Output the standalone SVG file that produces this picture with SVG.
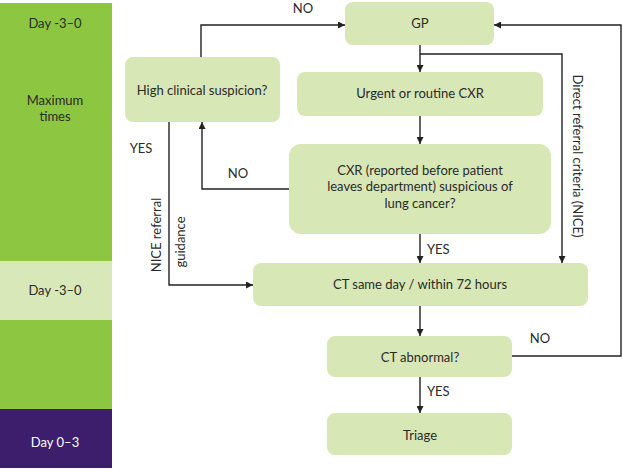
<svg xmlns="http://www.w3.org/2000/svg" width="623" height="469" viewBox="0 0 623 469">
<defs>
<marker id="ah" viewBox="0 0 10 10" refX="10" refY="5" markerWidth="7" markerHeight="7" markerUnits="userSpaceOnUse" orient="auto">
<path d="M0,0 L10,5 L0,10 z" fill="#222"/>
</marker>
<style>
.t{font-family:Lato,"Liberation Sans",sans-serif;font-size:13px;fill:#2a2a2a;text-anchor:middle}
.node{fill:#d8e7b6}
.c{fill:none;stroke:#222;stroke-width:1.4}
.ca{fill:none;stroke:#222;stroke-width:1.4;marker-end:url(#ah)}
</style>
</defs>
<rect width="623" height="469" fill="#fff"/>
<g id="timeline">
<rect x="0" y="3" width="112" height="258" fill="#8dc641"/>
<rect x="0" y="261" width="112" height="59" fill="#d9e8b9"/>
<rect x="0" y="320" width="112" height="89" fill="#8dc641"/>
<rect x="0" y="409" width="112" height="59" fill="#3d1e6d"/>
<text class="t" x="55" y="28">Day -3–0</text>
<text class="t" x="55" y="105">Maximum</text>
<text class="t" x="55" y="121">times</text>
<text class="t" x="55" y="295">Day -3–0</text>
<text class="t" x="55" y="447" style="fill:#fff">Day 0–3</text>
</g>
<g id="connectors">
<polyline class="ca" points="201,57 201,25 345,25"/>
<line class="ca" x1="420" y1="45" x2="420" y2="72"/>
<polyline class="ca" points="420,54 562,54 562,263"/>
<polyline class="ca" points="512,356 621,356 621,25 494,25"/>
<line class="ca" x1="420" y1="116" x2="420" y2="144"/>
<line class="ca" x1="420" y1="234" x2="420" y2="263"/>
<polyline class="ca" points="289,189 202,189 202,122"/>
<polyline class="ca" points="169,122 169,285 253,285"/>
<line class="ca" x1="420" y1="306" x2="420" y2="336"/>
<line class="ca" x1="420" y1="377" x2="420" y2="413"/>
<text class="t" x="303" y="13">NO</text>
<text class="t" x="238" y="178">NO</text>
<text class="t" x="141" y="153">YES</text>
<text class="t" x="427" y="254" style="text-anchor:start">YES</text>
<text class="t" x="540" y="343">NO</text>
<text class="t" x="427" y="396" style="text-anchor:start">YES</text>
<text class="t" transform="translate(161,235) rotate(-90)">NICE referral</text>
<text class="t" transform="translate(185,242) rotate(-90)">guidance</text>
<text class="t" transform="translate(573,156) rotate(90)">Direct referral criteria (NICE)</text>
</g>
<g id="n-gp">
<rect class="node" x="345" y="2" width="149" height="43" rx="8"/>
<text class="t" x="420" y="28">GP</text>
</g>
<g id="n-high">
<rect class="node" x="125" y="57" width="155" height="65" rx="8"/>
<text class="t" x="202" y="95">High clinical suspicion?</text>
</g>
<g id="n-cxr">
<rect class="node" x="297" y="72" width="246" height="44" rx="8"/>
<text class="t" x="420" y="98">Urgent or routine CXR</text>
</g>
<g id="n-suspicious">
<rect class="node" x="289" y="144" width="262" height="90" rx="12"/>
<text class="t" x="420" y="175">CXR (reported before patient</text>
<text class="t" x="420" y="191">leaves department) suspicious of</text>
<text class="t" x="420" y="208">lung cancer?</text>
</g>
<g id="n-ct">
<rect class="node" x="253" y="263" width="335" height="43" rx="8"/>
<text class="t" x="420" y="289">CT same day / within 72 hours</text>
</g>
<g id="n-abn">
<rect class="node" x="327" y="336" width="185" height="41" rx="8"/>
<text class="t" x="420" y="362">CT abnormal?</text>
</g>
<g id="n-triage">
<rect class="node" x="327" y="413" width="185" height="42" rx="8"/>
<text class="t" x="420" y="440">Triage</text>
</g>
</svg>
